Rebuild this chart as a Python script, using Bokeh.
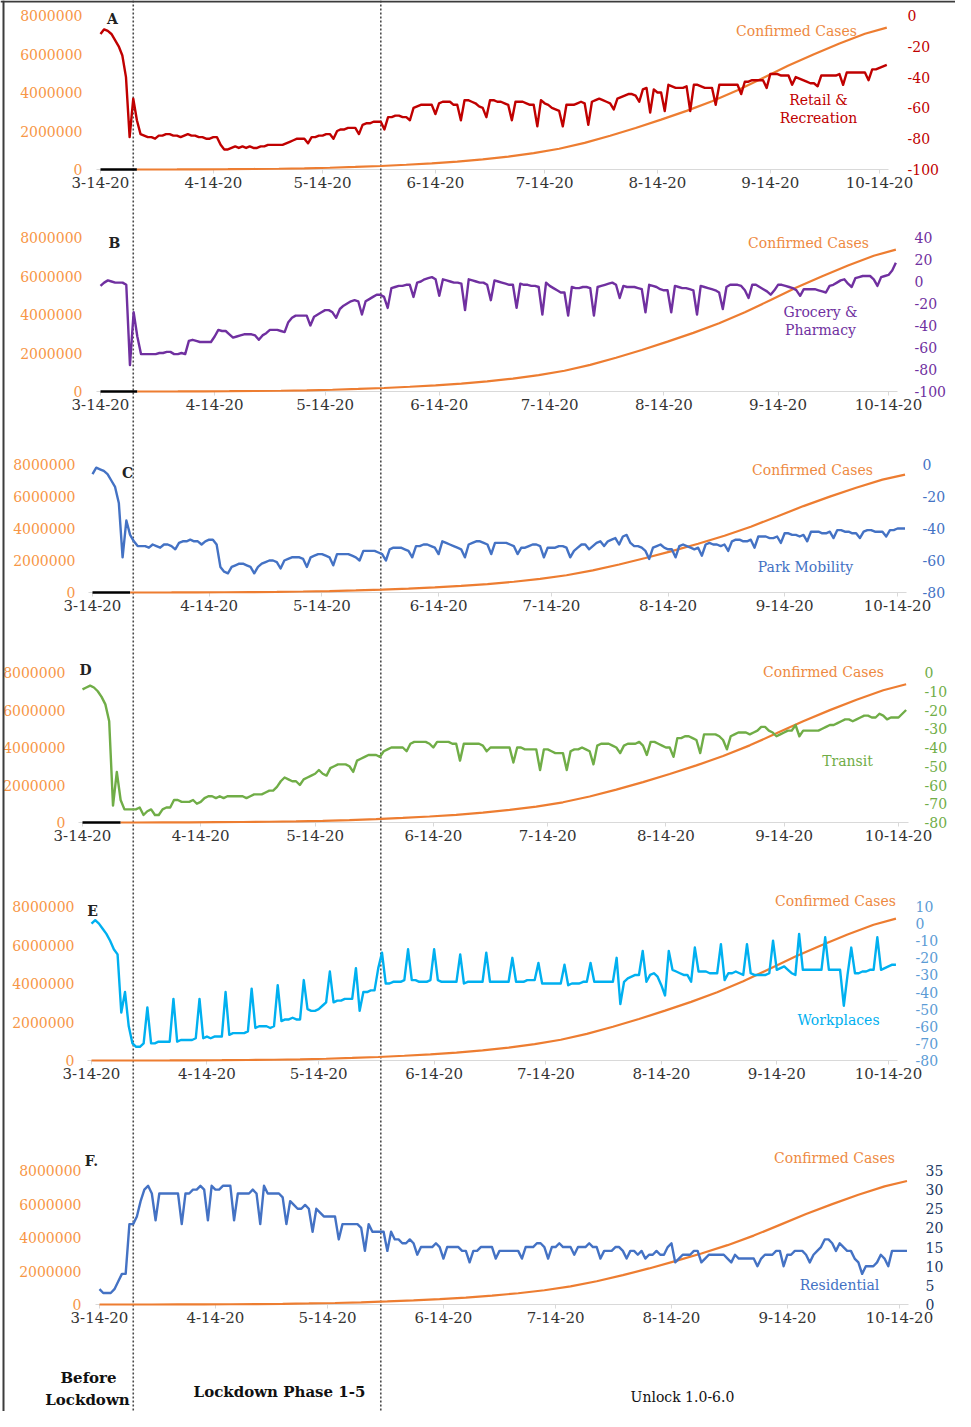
import numpy as np
import pandas as pd
from bokeh.plotting import figure
from bokeh.models import (Range1d, LinearAxis, FixedTicker, BasicTickFormatter,
                          Span, Label)
from bokeh.embed import file_html
from bokeh.resources import INLINE

# ---------------------------------------------------------------- data
START_DATE = "2020-03-14"
N_DAYS = 217
TICK_DATES = ["2020-03-14", "2020-04-14", "2020-05-14", "2020-06-14",
              "2020-07-14", "2020-08-14", "2020-09-14", "2020-10-14"]
TICK_LABELS = ["3-14-20", "4-14-20", "5-14-20", "6-14-20",
               "7-14-20", "8-14-20", "9-14-20", "10-14-20"]
CASE_TICKS = [0, 2000000, 4000000, 6000000, 8000000]
PHASE_BREAKS = ["2020-03-23", "2020-05-30"]
PRE_LOCKDOWN_END = "2020-03-24"

CASE_DATES = ["2020-03-14", "2020-03-21", "2020-03-24", "2020-03-28", "2020-04-04",
              "2020-04-11", "2020-04-18", "2020-04-25", "2020-05-02", "2020-05-09",
              "2020-05-16", "2020-05-23", "2020-05-30", "2020-06-06", "2020-06-13",
              "2020-06-20", "2020-06-27", "2020-07-04", "2020-07-11", "2020-07-18",
              "2020-07-25", "2020-08-01", "2020-08-08", "2020-08-15", "2020-08-22",
              "2020-08-29", "2020-09-05", "2020-09-12", "2020-09-19", "2020-09-26",
              "2020-10-03", "2020-10-10", "2020-10-16"]
CASES = [102, 332, 536, 987, 3374,
         8446, 15712, 26496, 39980, 62939,
         90927, 131868, 182143, 246628, 320922,
         410461, 528859, 673165, 849553, 1077618,
         1385522, 1750723, 2153010, 2589682, 3044940,
         3542733, 4113811, 4754356, 5400619, 5992532,
         6549373, 7053806, 7370468]

RETAIL = [
    -12, -9, -10, -12, -16, -20, -26,
    -40, -79, -54, -68, -77, -78, -79,
    -79, -80, -78, -78, -77, -77, -78,
    -78, -79, -78, -77, -78, -78, -79,
    -79, -80, -80, -79, -79, -84, -87,
    -87, -86, -85, -86, -85, -86, -85,
    -86, -86, -85, -85, -84, -84, -84,
    -84, -84, -83, -82, -81, -80, -80,
    -80, -83, -79, -79, -78, -78, -77,
    -77, -80, -75, -74, -74, -73, -73,
    -73, -77, -71, -70, -70, -69, -69,
    -69, -74, -66, -66, -65, -65, -66,
    -66, -68, -60, -59, -58, -58, -58,
    -58, -64, -57, -56, -56, -56, -58,
    -58, -68, -55, -55, -56, -57, -59,
    -60, -66, -55, -55, -56, -56, -57,
    -58, -68, -56, -56, -56, -57, -58,
    -58, -72, -55, -57, -58, -60, -61,
    -62, -72, -58, -58, -58, -57, -56,
    -57, -71, -56, -55, -54, -55, -56,
    -57, -61, -54, -53, -52, -51, -51,
    -52, -56, -48, -47, -63, -48, -50,
    -50, -62, -45, -46, -47, -47, -47,
    -46, -62, -45, -45, -46, -47, -47,
    -47, -58, -45, -45, -45, -45, -45,
    -45, -51, -43, -43, -42, -42, -42,
    -42, -47, -38, -38, -38, -39, -39,
    -39, -45, -40, -41, -42, -43, -44,
    -44, -46, -39, -39, -39, -39, -39,
    -38, -45, -37, -37, -37, -37, -37,
    -37, -42, -35, -35, -34, -33, -32,
]
GROCERY = [
    -4, -1, 1, 0, -1, -1, -1,
    -3, -76, -28, -50, -66, -66, -66,
    -66, -66, -65, -65, -64, -64, -66,
    -66, -65, -66, -54, -53, -54, -55,
    -55, -55, -55, -50, -44, -45, -45,
    -48, -51, -50, -49, -48, -48, -48,
    -49, -53, -49, -47, -44, -44, -44,
    -45, -46, -37, -33, -31, -31, -31,
    -31, -40, -32, -30, -28, -26, -26,
    -28, -33, -25, -22, -20, -18, -17,
    -18, -30, -18, -16, -14, -12, -12,
    -14, -24, -6, -5, -4, -4, -3,
    -3, -14, -1, 0, 2, 3, 4,
    2, -13, 2, 1, 0, -1, -1,
    -2, -26, 2, 1, 0, -1, -1,
    -3, -17, 1, 0, -1, -2, -3,
    -3, -24, -2, -3, -3, -4, -4,
    -5, -30, -1, -4, -6, -8, -10,
    -10, -31, -5, -6, -6, -5, -5,
    -6, -31, -5, -4, -3, -2, -1,
    -3, -15, -4, -5, -5, -5, -6,
    -7, -28, -3, -4, -5, -7, -8,
    -8, -28, -4, -5, -6, -6, -7,
    -8, -30, -4, -5, -6, -7, -8,
    -10, -25, -5, -3, -3, -3, -4,
    -8, -15, -3, -3, -5, -7, -9,
    -12, -8, -3, -3, -4, -5, -6,
    -8, -13, -7, -7, -7, -7, -8,
    -9, -10, -4, -3, -1, 1, 2,
    -2, -5, 3, 4, 5, 5, 5,
    2, -4, 4, 5, 6, 10, 17,
]
PARKS = [
    -6, -2, -3, -4, -6, -10, -14,
    -24, -58, -35, -44, -48, -51, -51,
    -51, -52, -50, -51, -52, -50, -50,
    -51, -53, -49, -48, -48, -47, -48,
    -48, -50, -48, -47, -47, -50, -64,
    -67, -68, -64, -63, -62, -62, -63,
    -64, -68, -64, -62, -61, -60, -60,
    -61, -65, -60, -59, -58, -58, -58,
    -59, -64, -58, -57, -56, -56, -57,
    -58, -63, -56, -56, -56, -56, -57,
    -58, -60, -54, -54, -54, -54, -55,
    -56, -60, -53, -52, -52, -52, -53,
    -54, -58, -51, -51, -50, -50, -51,
    -52, -56, -48, -49, -50, -51, -52,
    -53, -58, -50, -49, -48, -48, -49,
    -50, -56, -49, -49, -49, -49, -50,
    -51, -56, -52, -52, -51, -50, -50,
    -51, -58, -52, -52, -52, -51, -51,
    -52, -58, -54, -52, -50, -50, -53,
    -51, -49, -48, -51, -48, -47, -46,
    -50, -45, -44, -49, -51, -51, -52,
    -54, -59, -52, -51, -50, -52, -53,
    -53, -58, -51, -50, -51, -52, -53,
    -52, -57, -50, -49, -50, -50, -51,
    -50, -54, -48, -47, -47, -48, -48,
    -47, -52, -45, -45, -45, -46, -46,
    -45, -49, -43, -43, -44, -44, -45,
    -44, -48, -42, -42, -42, -43, -43,
    -42, -46, -41, -41, -42, -42, -43,
    -43, -46, -42, -41, -41, -42, -42,
    -42, -45, -41, -41, -40, -40, -40,
]
TRANSIT = [
    -9, -8, -7, -8, -10, -13, -17,
    -26, -71, -53, -68, -73, -73, -73,
    -73, -72, -76, -74, -73, -76, -76,
    -73, -72, -72, -68, -68, -69, -69,
    -69, -68, -70, -69, -67, -66, -66,
    -67, -66, -67, -66, -66, -66, -66,
    -66, -67, -66, -65, -65, -65, -64,
    -63, -63, -61, -58, -56, -57, -58,
    -58, -60, -57, -56, -55, -54, -52,
    -54, -55, -51, -50, -49, -49, -49,
    -50, -53, -47, -46, -45, -44, -44,
    -44, -45, -42, -41, -40, -40, -40,
    -40, -42, -38, -37, -37, -37, -37,
    -38, -40, -37, -37, -37, -37, -38,
    -38, -47, -38, -38, -38, -38, -38,
    -39, -42, -40, -40, -40, -40, -40,
    -40, -48, -40, -40, -41, -41, -41,
    -41, -52, -41, -41, -42, -43, -43,
    -43, -52, -42, -41, -41, -40, -41,
    -42, -49, -39, -38, -38, -38, -39,
    -40, -43, -39, -38, -38, -38, -37,
    -39, -44, -37, -37, -38, -39, -40,
    -40, -45, -35, -35, -34, -34, -35,
    -36, -43, -33, -33, -33, -33, -34,
    -36, -41, -34, -33, -32, -32, -32,
    -33, -32, -31, -29, -29, -31, -32,
    -34, -33, -32, -31, -31, -28, -34,
    -31, -31, -31, -31, -31, -30, -29,
    -28, -28, -27, -26, -25, -25, -26,
    -25, -24, -23, -23, -24, -24, -22,
    -23, -25, -24, -24, -24, -22, -20,
]
WORKPLACES = [
    0, 2, 0, -3, -6, -10, -15,
    -18, -52, -40, -60, -70, -72, -72,
    -70, -49, -70, -70, -69, -69, -69,
    -69, -44, -69, -68, -68, -68, -68,
    -67, -44, -67, -66, -67, -66, -66,
    -66, -40, -65, -64, -64, -64, -64,
    -63, -38, -61, -60, -60, -60, -61,
    -60, -36, -57, -56, -56, -55, -56,
    -56, -33, -50, -51, -51, -50, -48,
    -46, -28, -46, -45, -45, -44, -44,
    -44, -26, -51, -40, -40, -39, -39,
    -26, -17, -35, -35, -34, -34, -34,
    -33, -15, -33, -33, -34, -34, -34,
    -33, -15, -33, -34, -34, -34, -34,
    -34, -18, -35, -34, -34, -34, -34,
    -34, -17, -34, -34, -34, -34, -34,
    -34, -20, -34, -34, -34, -33, -33,
    -33, -23, -35, -35, -35, -35, -35,
    -35, -24, -36, -35, -35, -35, -34,
    -34, -23, -34, -34, -34, -34, -34,
    -34, -20, -47, -34, -32, -31, -30,
    -30, -16, -34, -30, -29, -31, -36,
    -42, -16, -27, -28, -29, -30, -30,
    -34, -14, -28, -28, -28, -29, -29,
    -29, -12, -33, -29, -29, -28, -29,
    -30, -12, -29, -30, -30, -30, -30,
    -29, -10, -27, -26, -25, -27, -29,
    -30, -6, -27, -27, -27, -27, -27,
    -27, -8, -27, -27, -27, -27, -48,
    -30, -14, -29, -29, -28, -28, -27,
    -27, -8, -27, -26, -25, -24, -24,
]
RESIDENTIAL = [
    4, 3, 3, 3, 4, 6, 8,
    8, 21, 21, 23, 27, 30, 31,
    29, 22, 29, 29, 29, 29, 29,
    29, 21, 29, 29, 30, 30, 31,
    30, 22, 31, 30, 30, 31, 31,
    31, 22, 29, 29, 29, 29, 30,
    29, 21, 31, 29, 29, 29, 29,
    28, 21, 27, 26, 25, 25, 26,
    25, 19, 25, 24, 23, 23, 23,
    23, 17, 21, 21, 21, 21, 21,
    20, 14, 21, 19, 19, 19, 19,
    14, 19, 17, 17, 16, 16, 17,
    16, 13, 15, 15, 15, 15, 16,
    15, 12, 15, 15, 15, 15, 14,
    14, 11, 14, 14, 15, 15, 15,
    15, 12, 14, 14, 14, 14, 14,
    14, 12, 15, 15, 15, 16, 16,
    15, 12, 15, 15, 16, 15, 15,
    15, 13, 15, 15, 15, 16, 15,
    15, 12, 14, 14, 14, 15, 15,
    14, 12, 14, 14, 13, 14, 12,
    13, 13, 14, 13, 13, 15, 16,
    11, 12, 13, 13, 13, 14, 14,
    11, 12, 13, 13, 13, 13, 13,
    12, 11, 13, 12, 12, 12, 12,
    12, 10, 12, 13, 13, 13, 14,
    14, 10, 13, 13, 14, 14, 14,
    13, 11, 13, 14, 15, 17, 17,
    16, 14, 16, 15, 14, 14, 12,
    11, 8, 10, 10, 10, 11, 13,
    12, 10, 14, 14, 14, 14, 14,
]
RETAIL_TICKS = [0, -20, -40, -60, -80, -100]
GROCERY_TICKS = [40, 20, 0, -20, -40, -60, -80, -100]
PARKS_TICKS = [0, -20, -40, -60, -80]
TRANSIT_TICKS = [0, -10, -20, -30, -40, -50, -60, -70, -80]
WORK_TICKS = [10, 0, -10, -20, -30, -40, -50, -60, -70, -80]
RESID_TICKS = [0, 5, 10, 15, 20, 25, 30, 35]

# ---------------------------------------------------------------- layout / style
W, H = 955, 1411
OFF = 8
FONT = "DejaVu Serif"
ORANGE = "#ED7D31"
CC_TEXT = "#EE8A42"
LEFT_LABEL = "#F79646"

PANELS = [
    dict(series=RETAIL, ticks=RETAIL_TICKS, color="#C00000", axcol="#C00000", txtcol="#C00000",
         x314=108, x1014=887, base=177, top=23, lab_l=90, lab_r=915, black=True,
         letter=("A", 120, 26), cc=(804, 38),
         names=[("Retail &", 826, 107), ("Recreation", 826, 125)]),
    dict(series=GROCERY, ticks=GROCERY_TICKS, color="#7030A0", axcol="#7030A0", txtcol="#7030A0",
         x314=108, x1014=896, base=399, top=245, lab_l=90, lab_r=922, black=True,
         letter=("B", 122, 250), cc=(816, 250),
         names=[("Grocery &", 828, 319), ("Pharmacy", 828, 337)]),
    dict(series=PARKS, ticks=PARKS_TICKS, color="#4472C4", axcol="#4472C4", txtcol="#4472C4",
         x314=100, x1014=905, base=600, top=472, lab_l=83, lab_r=930, black=True,
         letter=("C", 135, 480), cc=(820, 477),
         names=[("Park Mobility", 813, 574)]),
    dict(series=TRANSIT, ticks=TRANSIT_TICKS, color="#70AD47", axcol="#70AD47", txtcol="#70AD47",
         x314=90, x1014=906, base=830, top=680, lab_l=73, lab_r=932, black=True,
         letter=("D", 93, 677), cc=(831, 679),
         names=[("Transit", 855, 768)]),
    dict(series=WORKPLACES, ticks=WORK_TICKS, color="#00B0F0", axcol="#5B9BD5", txtcol="#00B0F0",
         x314=99, x1014=896, base=1068, top=914, lab_l=82, lab_r=923, black=False,
         letter=("E", 100, 918), cc=(843, 908),
         names=[("Workplaces", 846, 1027)]),
    dict(series=RESIDENTIAL, ticks=RESID_TICKS, color="#4472C4", axcol="#203864", txtcol="#4472C4",
         x314=107, x1014=907, base=1312, top=1178, lab_l=89, lab_r=933, black=False,
         letter=("F.", 99, 1168), cc=(842, 1165),
         names=[("Residential", 847, 1292)]),
]


def to_ms(dates):
    vals = pd.to_datetime(list(dates)).values.astype("datetime64[ms]").astype(np.int64)
    return np.asarray(vals, dtype=float)


DAY_MS = 86400000.0
days_ms = to_ms(pd.date_range(START_DATE, periods=N_DAYS))
tick_ms = to_ms(TICK_DATES)
case_ms = to_ms(CASE_DATES)
cases = np.asarray(CASES, dtype=float)
pre_end = to_ms([PRE_LOCKDOWN_END])[0]

p = figure(width=W, height=H, x_range=Range1d(0, W), y_range=Range1d(H, 0),
           x_axis_type=None, y_axis_type=None, output_backend="svg",
           toolbar_location=None, tools="", min_border=0,
           outline_line_color=None, background_fill_color="white",
           border_fill_color="white")

xr_dict, yr_dict = {}, {}
for i, c in enumerate(PANELS):
    a, b = c["x314"] - OFF, c["x1014"] - OFF
    k = (tick_ms[-1] - tick_ms[0]) / (b - a)
    xr_dict[f"x{i}"] = Range1d(tick_ms[0] - a * k, tick_ms[0] + (W - a) * k)
    y0, yt = c["base"] - OFF, c["top"] - OFF
    vpp = max(CASE_TICKS) / (y0 - yt)
    yr_dict[f"l{i}"] = Range1d((y0 - H) * vpp, y0 * vpp)
    rmin, rmax = min(c["ticks"]), max(c["ticks"])
    rpp = (rmax - rmin) / (y0 - yt)
    yr_dict[f"r{i}"] = Range1d(rmin + (y0 - H) * rpp, rmin + y0 * rpp)
p.extra_x_ranges = xr_dict
p.extra_y_ranges = yr_dict


def add_text(text, x, y, color, size="14px", style="normal", align="center"):
    p.add_layout(Label(x=x - OFF, y=y - OFF, text=text, text_color=color,
                       text_font=FONT, text_font_size=size, text_font_style=style,
                       text_align=align, text_baseline="middle"))


overrides = {float(t): lab for t, lab in zip(tick_ms, TICK_LABELS)}

for i, c in enumerate(PANELS):
    xr, lr, rr = f"x{i}", f"l{i}", f"r{i}"
    # x axis
    xa = LinearAxis(x_range_name=xr, fixed_location=c["base"] - OFF,
                    ticker=FixedTicker(ticks=list(tick_ms)),
                    major_label_overrides=overrides,
                    bounds=(days_ms[0] - 1.0 * DAY_MS, days_ms[-1] + 0.5 * DAY_MS),
                    axis_line_color="#D9D9D9", axis_line_width=1.2,
                    major_tick_line_color="#D9D9D9", major_tick_in=0, major_tick_out=4,
                    minor_tick_line_color=None, major_label_standoff=3,
                    major_label_text_font=FONT, major_label_text_font_size="15px",
                    major_label_text_color="#333333")
    p.add_layout(xa, "below")
    # left (cases) axis
    la = LinearAxis(y_range_name=lr, fixed_location=c["lab_l"] - OFF + 3,
                    ticker=FixedTicker(ticks=CASE_TICKS),
                    formatter=BasicTickFormatter(use_scientific=False),
                    axis_line_color=None, major_tick_line_color=None,
                    minor_tick_line_color=None, major_tick_in=0, major_tick_out=0,
                    major_label_standoff=3, major_label_text_font=FONT,
                    major_label_text_font_size="14px", major_label_text_color=LEFT_LABEL)
    p.add_layout(la, "left")
    # right (mobility) axis, plain hyphen-minus labels
    r_over = {float(t): str(t) for t in c["ticks"]}
    ra = LinearAxis(y_range_name=rr, fixed_location=c["lab_r"] - OFF - 3,
                    ticker=FixedTicker(ticks=c["ticks"]),
                    major_label_overrides=r_over,
                    axis_line_color=None, major_tick_line_color=None,
                    minor_tick_line_color=None, major_tick_in=0, major_tick_out=0,
                    major_label_standoff=3, major_label_text_font=FONT,
                    major_label_text_font_size="14px", major_label_text_color=c["axcol"])
    p.add_layout(ra, "right")

    # confirmed cases
    if c["black"]:
        m_pre = case_ms <= pre_end
        p.line(case_ms[m_pre], cases[m_pre], x_range_name=xr, y_range_name=lr,
               line_color="black", line_width=2.5, level="overlay")
        m_post = case_ms >= pre_end
    else:
        m_post = np.ones(len(case_ms), dtype=bool)
    p.line(case_ms[m_post], cases[m_post], x_range_name=xr, y_range_name=lr,
           line_color=ORANGE, line_width=2.2, level="overlay")
    # mobility
    p.line(days_ms, np.asarray(c["series"], dtype=float), x_range_name=xr, y_range_name=rr,
           line_color=c["color"], line_width=2.4, line_join="round", level="overlay")

    lt, lx, ly = c["letter"]
    add_text(lt, lx, ly, "#222222", size="14px", style="bold")
    add_text("Confirmed Cases", c["cc"][0], c["cc"][1], CC_TEXT)
    for t, tx, ty in c["names"]:
        add_text(t, tx, ty, c["txtcol"])

# phase boundaries (dotted lines across all panels)
for d in to_ms(PHASE_BREAKS):
    p.add_layout(Span(location=float(d), dimension="height", x_range_name="x0",
                      line_color="#4A4A4A", line_dash="2 2", line_width=1.6))

# frame lines of the figure box
p.add_layout(Span(location=3, dimension="height", line_color="#3C3C3C", line_width=2))
p.add_layout(Span(location=1, dimension="width", line_color="#3C3C3C", line_width=2))

# phase captions
add_text("Before", 96, 1385, "#111111", size="15px", style="bold")
add_text("Lockdown", 95, 1407, "#111111", size="15px", style="bold")
add_text("Lockdown Phase 1-5", 287, 1399, "#111111", size="15px", style="bold")
add_text("Unlock 1.0-6.0", 690, 1404, "#111111", size="14px")

open("out.html", "w").write(file_html(p, INLINE, title="Mobility vs confirmed cases"))
